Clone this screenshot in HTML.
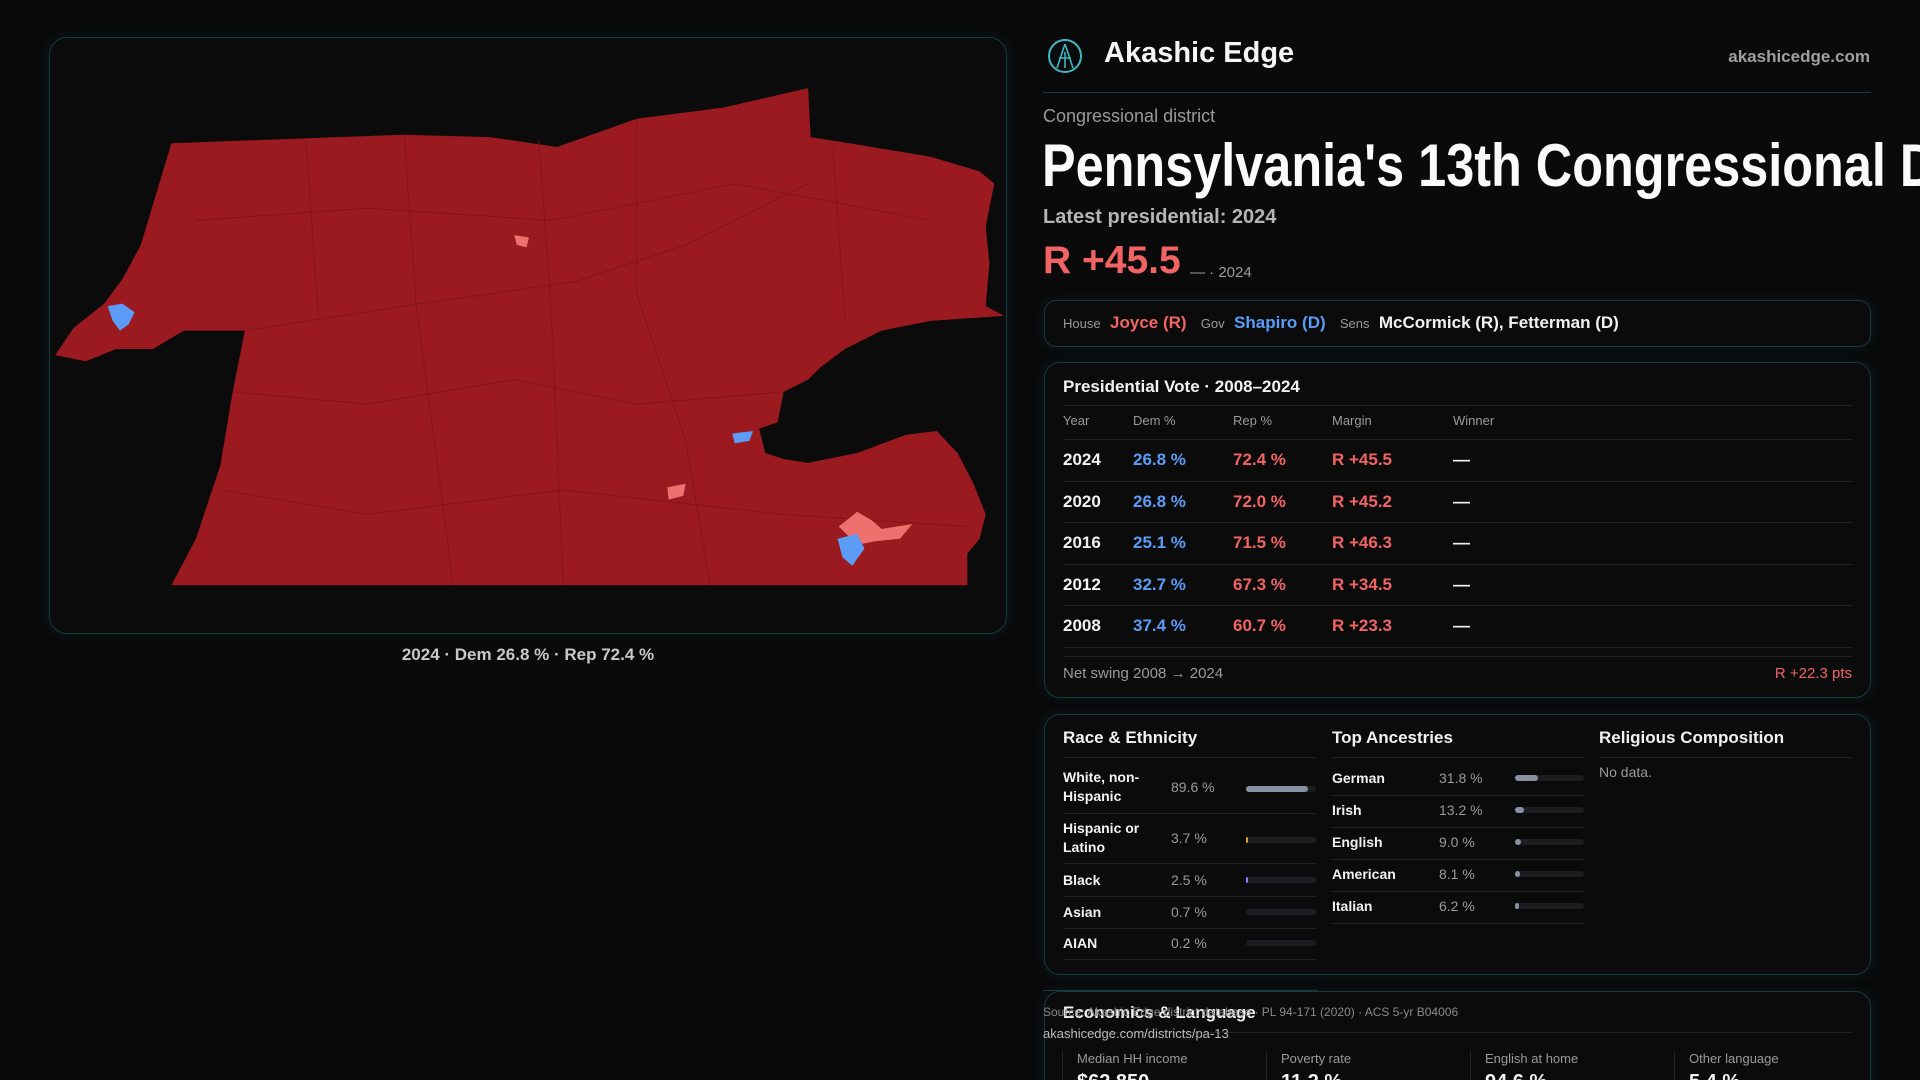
<!DOCTYPE html>
<html><head><meta charset="utf-8"><style>
*{margin:0;padding:0;box-sizing:border-box}
html,body{width:1920px;height:1080px;overflow:hidden}
body{background:#0a0a0b;font-family:"Liberation Sans",sans-serif;color:#f2f2f2;position:relative}
.a{position:absolute;white-space:nowrap}
.box{position:absolute;border:1px solid #153a40;border-radius:16px;background:#0b0b0c;box-shadow:0 0 12px rgba(20,70,80,.25)}
.blue{color:#5b9cf6}.red{color:#f26464}.mut{color:#9a9a9a}
.hl{position:absolute;height:1px;background:#222}
.bar{position:absolute;height:6px;border-radius:3px;background:#1c1d20}
.bar i{position:absolute;left:0;top:0;height:6px;border-radius:3px;background:#8791a3}
.row{position:relative;height:41.6px;line-height:40px;border-bottom:1px solid #222}
</style></head><body>
<div style="position:absolute;left:0;top:0;width:1920px;height:1080px;overflow:hidden">

<div class="box" style="left:49px;top:37px;width:958px;height:597px;border-radius:18px;background:#0b0b0c"></div>
<svg class="a" style="left:0;top:0" width="1920" height="1080" viewBox="0 0 1568 882">
<path fill="#9a1a1f" d="M45,290 L60,268 L85,248 L100,228 L115,200 L140,117 L330,110 L400,112 L455,120 L520,97 L590,88 L660,72 L662,112 L700,118 L760,128 L800,140 L812,150 L805,185 L808,215 L805,250 L820,258 L760,262 L720,270 L690,285 L670,300 L660,310 L640,320 L635,345 L620,350 L625,370 L640,375 L660,378 L700,370 L740,355 L765,352 L782,370 L795,395 L805,420 L800,440 L790,452 L790,478 L140,478 L160,440 L180,380 L190,320 L200,270 L150,270 L125,285 L95,285 L70,295 Z"/>
<g fill="none" stroke="#7f1519" stroke-width="0.7">
<path d="M200,270 L330,250 L470,230 L560,200 L660,150"/><path d="M190,320 L300,330 L420,310 L520,330 L640,320"/>
<path d="M330,110 L340,250 L360,400 L370,478"/><path d="M520,97 L520,240 L560,360 L580,478"/><path d="M160,180 L300,170 L450,180 L600,150 L760,180"/>
<path d="M180,400 L300,420 L460,400 L640,420 L790,430"/><path d="M440,115 L450,250 L460,478"/><path d="M250,115 L260,260"/><path d="M680,120 L690,260"/>
</g>
<path fill="#5b9cf6" d="M88,250 L100,248 L110,255 L105,265 L98,270 L92,262Z"/>
<path fill="#f07070" d="M420,192 L432,194 L430,202 L422,200Z"/>
<path fill="#5b9cf6" d="M598,354 L615,352 L612,360 L600,362Z"/>
<path fill="#f07070" d="M545,398 L560,395 L558,405 L546,408Z"/>
<path fill="#f07070" d="M685,430 L700,418 L712,425 L720,432 L745,428 L735,440 L715,442 L700,445Z"/>
<path fill="#5b9cf6" d="M684,440 L700,436 L706,448 L696,462 L688,455Z"/>
</svg>
<div class="a" style="left:0;width:1056px;top:645px;text-align:center;font-size:17px;color:#c8c8c8;font-weight:bold">2024 · Dem 26.8 % · Rep 72.4 %</div>

<svg class="a" style="left:1047px;top:38px" width="36" height="36" viewBox="0 0 36 36"><circle cx="18" cy="18" r="16" fill="none" stroke="#3fb8c4" stroke-width="2"/><path d="M18,6 L10,30 M18,6 L26,30 M12,20 L24,20 M18,14 L18,30" stroke="#3fb8c4" stroke-width="1.6" fill="none"/></svg>
<div class="a" style="left:1104px;top:37px;font-size:29px;font-weight:bold;color:#f5f5f5">Akashic Edge</div>
<div class="a" style="left:1700px;top:47px;width:170px;text-align:right;font-size:17px;font-weight:bold;color:#a0a0a0">akashicedge.com</div>
<div class="hl" style="left:1043px;top:92px;width:828px;background:#153a40"></div>
<div class="a mut" style="left:1043px;top:106px;font-size:18px">Congressional district</div>
<div style="position:absolute;left:1042px;top:131px;width:878px;height:70px;overflow:hidden">
<div class="a" style="left:0;top:0;font-size:60px;font-weight:bold;color:#fafafa;transform:scaleX(0.84);transform-origin:0 0">Pennsylvania's 13th Congressional District</div></div>
<div class="a" style="left:1043px;top:206px;font-size:20px;font-weight:bold;color:#b5b5b5">Latest presidential: 2024</div>
<div class="a red" style="left:1043px;top:239px;font-size:39px;font-weight:bold">R +45.5</div>
<div class="a mut" style="left:1190px;top:264px;font-size:15px">— · 2024</div>

<div class="box" style="left:1044px;top:300px;width:827px;height:47px;border-radius:12px"></div>
<div class="a" style="left:1063px;top:313px;font-size:17px;font-weight:bold"><span class="mut" style="font-size:13px;font-weight:normal">House</span>&nbsp; <span class="red">Joyce (R)</span> &nbsp; <span class="mut" style="font-size:13px;font-weight:normal">Gov</span>&nbsp; <span class="blue">Shapiro (D)</span> &nbsp; <span class="mut" style="font-size:13px;font-weight:normal">Sens</span>&nbsp; McCormick (R), Fetterman (D)</div>

<div class="box" style="left:1044px;top:362px;width:827px;height:336px"></div>
<div class="a" style="left:1063px;top:377px;font-size:17px;font-weight:bold">Presidential Vote · 2008–2024</div>
<div class="hl" style="left:1063px;top:405px;width:790px"></div>
<div class="a mut" style="left:1063px;top:413px;font-size:13px">Year</div><div class="a mut" style="left:1133px;top:413px;font-size:13px">Dem %</div><div class="a mut" style="left:1233px;top:413px;font-size:13px">Rep %</div><div class="a mut" style="left:1332px;top:413px;font-size:13px">Margin</div><div class="a mut" style="left:1453px;top:413px;font-size:13px">Winner</div>
<div class="hl" style="left:1063px;top:439px;width:790px"></div>
<div style="position:absolute;left:1063px;top:440px;font-size:17px;font-weight:bold;width:790px">
<div class="row"><span class="a" style="left:0">2024</span><span class="a blue" style="left:70px">26.8 %</span><span class="a red" style="left:170px">72.4 %</span><span class="a red" style="left:269px">R +45.5</span><span class="a" style="left:390px">—</span></div>
<div class="row"><span class="a" style="left:0">2020</span><span class="a blue" style="left:70px">26.8 %</span><span class="a red" style="left:170px">72.0 %</span><span class="a red" style="left:269px">R +45.2</span><span class="a" style="left:390px">—</span></div>
<div class="row"><span class="a" style="left:0">2016</span><span class="a blue" style="left:70px">25.1 %</span><span class="a red" style="left:170px">71.5 %</span><span class="a red" style="left:269px">R +46.3</span><span class="a" style="left:390px">—</span></div>
<div class="row"><span class="a" style="left:0">2012</span><span class="a blue" style="left:70px">32.7 %</span><span class="a red" style="left:170px">67.3 %</span><span class="a red" style="left:269px">R +34.5</span><span class="a" style="left:390px">—</span></div>
<div class="row"><span class="a" style="left:0">2008</span><span class="a blue" style="left:70px">37.4 %</span><span class="a red" style="left:170px">60.7 %</span><span class="a red" style="left:269px">R +23.3</span><span class="a" style="left:390px">—</span></div>
</div>
<div class="hl" style="left:1063px;top:656px;width:790px"></div>
<div class="a mut" style="left:1063px;top:665px;font-size:15px">Net swing 2008 → 2024</div>
<div class="a red" style="left:1700px;width:152px;text-align:right;top:665px;font-size:15px">R +22.3 pts</div>

<div class="box" style="left:1044px;top:714px;width:827px;height:261px"></div>
<div class="a" style="left:1063px;top:728px;font-size:17px;font-weight:bold">Race &amp; Ethnicity</div>
<div class="a" style="left:1332px;top:728px;font-size:17px;font-weight:bold">Top Ancestries</div>
<div class="a" style="left:1599px;top:728px;font-size:17px;font-weight:bold">Religious Composition</div>
<div class="hl" style="left:1063px;top:757px;width:253px"></div><div class="hl" style="left:1332px;top:757px;width:252px"></div><div class="hl" style="left:1599px;top:757px;width:253px"></div>
<div class="a mut" style="left:1599px;top:764px;font-size:14px">No data.</div>

<div style="position:absolute;left:1063px;top:768px;font-size:14px;font-weight:bold">
<div class="a" style="top:0;line-height:19px">White, non-<br>Hispanic</div><div class="a mut" style="left:108px;top:11px;font-weight:normal">89.6 %</div><div class="bar" style="left:183px;top:18px;width:70px"><i style="width:62px"></i></div>
<div class="hl" style="top:45px;width:253px"></div>
<div class="a" style="top:51px;line-height:19px">Hispanic or<br>Latino</div><div class="a mut" style="left:108px;top:62px;font-weight:normal">3.7 %</div><div class="bar" style="left:183px;top:69px;width:70px"><i style="width:2px;background:#e0a020"></i></div>
<div class="hl" style="top:95px;width:253px"></div>
<div class="a" style="top:104px">Black</div><div class="a mut" style="left:108px;top:104px;font-weight:normal">2.5 %</div><div class="bar" style="left:183px;top:109px;width:70px"><i style="width:2px;background:#8a7cff"></i></div>
<div class="hl" style="top:128px;width:253px"></div>
<div class="a" style="top:136px">Asian</div><div class="a mut" style="left:108px;top:136px;font-weight:normal">0.7 %</div><div class="bar" style="left:183px;top:141px;width:70px"></div>
<div class="hl" style="top:160px;width:253px"></div>
<div class="a" style="top:167px">AIAN</div><div class="a mut" style="left:108px;top:167px;font-weight:normal">0.2 %</div><div class="bar" style="left:183px;top:172px;width:70px"></div>
<div class="hl" style="top:191px;width:253px"></div>
</div>

<div style="position:absolute;left:1332px;top:768px;font-size:14px;font-weight:bold">
<div class="a" style="top:2px">German</div><div class="a mut" style="left:107px;top:2px;font-weight:normal">31.8 %</div><div class="bar" style="left:183px;top:7px;width:69px"><i style="width:23px"></i></div>
<div class="hl" style="top:27px;width:252px"></div>
<div class="a" style="top:34px">Irish</div><div class="a mut" style="left:107px;top:34px;font-weight:normal">13.2 %</div><div class="bar" style="left:183px;top:39px;width:69px"><i style="width:9px"></i></div>
<div class="hl" style="top:59px;width:252px"></div>
<div class="a" style="top:66px">English</div><div class="a mut" style="left:107px;top:66px;font-weight:normal">9.0 %</div><div class="bar" style="left:183px;top:71px;width:69px"><i style="width:6px"></i></div>
<div class="hl" style="top:91px;width:252px"></div>
<div class="a" style="top:98px">American</div><div class="a mut" style="left:107px;top:98px;font-weight:normal">8.1 %</div><div class="bar" style="left:183px;top:103px;width:69px"><i style="width:5px"></i></div>
<div class="hl" style="top:123px;width:252px"></div>
<div class="a" style="top:130px">Italian</div><div class="a mut" style="left:107px;top:130px;font-weight:normal">6.2 %</div><div class="bar" style="left:183px;top:135px;width:69px"><i style="width:4px"></i></div>
<div class="hl" style="top:155px;width:252px"></div>
</div>

<div class="box" style="left:1044px;top:991px;width:827px;height:120px"></div>
<div class="hl" style="left:1043px;top:990px;width:275px;background:#153a40"></div>
<div class="a" style="left:1063px;top:1003px;font-size:17px;font-weight:bold">Economics &amp; Language</div>
<div class="hl" style="left:1063px;top:1032px;width:790px"></div>
<div class="a mut" style="left:1043px;top:1005px;font-size:12px;color:#8a8a8a">Source: Akashic Edge district database · PL 94-171 (2020) · ACS 5-yr B04006</div>
<div class="a" style="left:1043px;top:1026px;font-size:13px;color:#bbb">akashicedge.com/districts/pa-13</div>
<div class="a mut" style="left:1077px;top:1051px;font-size:13px">Median HH income</div>
<div class="a mut" style="left:1281px;top:1051px;font-size:13px">Poverty rate</div>
<div class="a mut" style="left:1485px;top:1051px;font-size:13px">English at home</div>
<div class="a mut" style="left:1689px;top:1051px;font-size:13px">Other language</div>
<div class="a" style="left:1062px;top:1050px;width:1px;height:40px;background:#222"></div>
<div class="a" style="left:1266px;top:1050px;width:1px;height:40px;background:#222"></div>
<div class="a" style="left:1470px;top:1050px;width:1px;height:40px;background:#222"></div>
<div class="a" style="left:1674px;top:1050px;width:1px;height:40px;background:#222"></div>
<div class="a" style="left:1077px;top:1071px;font-size:20px;font-weight:bold">$62,850</div>
<div class="a" style="left:1281px;top:1071px;font-size:20px;font-weight:bold">11.2 %</div>
<div class="a" style="left:1485px;top:1071px;font-size:20px;font-weight:bold">94.6 %</div>
<div class="a" style="left:1689px;top:1071px;font-size:20px;font-weight:bold">5.4 %</div>
</div>
</body></html>
